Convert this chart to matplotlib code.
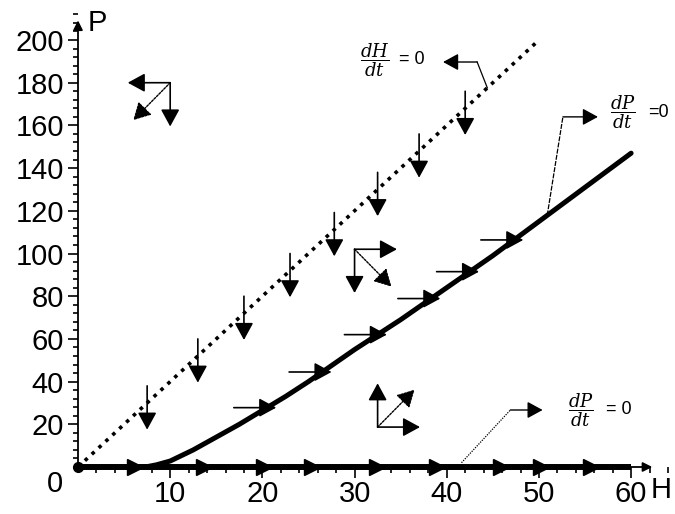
import numpy as np
import matplotlib.pyplot as plt
from matplotlib.ticker import MultipleLocator

plt.rcParams['font.family'] = ['Liberation Sans', 'DejaVu Sans']
plt.rcParams['mathtext.fontset'] = 'dejavuserif'

# нуль-изоклина dH/dt = 0 (прямая)
lineH_H = [0, 50]
lineH_P = [0, 200]

# нуль-изоклина dP/dt = 0 (кривая)
curve_H = [7.3, 8.5, 10, 12.5, 15, 17.5, 20, 22.5, 25, 27.5, 30, 35, 40, 45, 50, 55, 60]
curve_P = [0, 1, 2.8, 8, 14, 20, 26.5, 33, 40, 47.5, 55, 69, 84, 99, 115, 131, 147]

# стрелки на изоклинах и на оси H
down_arrow_H = [7.5, 13, 18, 23, 27.8, 32.5, 37, 42]
right_arrow_H = [20.5, 26.5, 32.5, 38.3, 42.5, 47.3]
axis_arrow_H = [6.2, 13.7, 20.2, 25.4, 32.4, 38.9, 45.9, 50.2, 55.7]

# направления потока в областях
icon_H = [10, 30, 32.5]
icon_P = [180, 102, 18.7]
icon_sx = [-1, 1, 1]
icon_sy = [-1, -1, 1]

x_ticks = [10, 20, 30, 40, 50, 60]
y_ticks = [20, 40, 60, 80, 100, 120, 140, 160, 180, 200]

fig = plt.figure(figsize=(6.75, 5.14), dpi=100)
ax = fig.add_axes([78 / 675, 47 / 514, 590 / 675, 452.6 / 514])
ax.set_xlim(0, 64)
ax.set_ylim(0, 212)
for s in ax.spines.values():
    s.set_visible(False)

ax.set_xticks(x_ticks)
ax.set_yticks(y_ticks)
ax.set_xticklabels([str(v) for v in x_ticks], fontsize=21)
ax.set_yticklabels([str(v) for v in y_ticks], fontsize=21)
ax.xaxis.set_minor_locator(MultipleLocator(2))
ax.yaxis.set_minor_locator(MultipleLocator(4))
ax.tick_params(axis='x', which='major', length=8, width=1.2, pad=1.5)
ax.tick_params(axis='x', which='minor', length=4, width=1.2)
ax.tick_params(axis='y', which='major', length=7, width=1.2, pad=3)
ax.tick_params(axis='y', which='minor', length=3.5, width=1.2)

# оси со стрелками
ax.annotate('', xy=(0, 210.5), xytext=(0, 0), annotation_clip=False,
            arrowprops=dict(arrowstyle='-|>', color='k', lw=1.3, mutation_scale=14))
ax.annotate('', xy=(62.6, 0), xytext=(0, 0), annotation_clip=False,
            arrowprops=dict(arrowstyle='-|>', color='k', lw=1.3, mutation_scale=14))
ax.text(1.0, 208, 'P', fontsize=21, ha='left', va='center')
ax.text(62.1, -11, 'H', fontsize=21, ha='left', va='center', clip_on=False)
ax.annotate('0', xy=(0, 0), xytext=(-16.5, -12.5), textcoords='offset points',
            fontsize=21, ha='center', va='center', annotation_clip=False)

# изоклины
ax.plot([0, 60], [0, 0], color='k', lw=4.3, solid_capstyle='butt', clip_on=False)
ax.plot(0, 0, 'o', color='k', ms=7, clip_on=False)
ax.plot(lineH_H, lineH_P, color='k', lw=2.6, linestyle=(0, (1.0, 1.6)))
ax.plot(curve_H, curve_P, color='k', lw=3.6, solid_capstyle='round',
        solid_joinstyle='round')

head = dict(arrowstyle='-|>,head_length=0.55,head_width=0.3', color='k', lw=1.2,
            mutation_scale=19, shrinkA=0, shrinkB=0)

for h in down_arrow_H:
    p = np.interp(h, lineH_H, lineH_P)
    ax.annotate('', xy=(h, p - 12.5), xytext=(h, p + 8), arrowprops=head)

for h in right_arrow_H:
    p = np.interp(h, curve_H, curve_P)
    ax.annotate('', xy=(h + 1.0, p), xytext=(h - 3.6, p), arrowprops=head)

ax.plot(axis_arrow_H, np.zeros(len(axis_arrow_H)), '>', color='k', ms=11, clip_on=False)

# значки направлений
for h, p, sx, sy in zip(icon_H, icon_P, icon_sx, icon_sy):
    ax.annotate('', xy=(h + sx * 4.6, p), xytext=(h, p), arrowprops=head)
    ax.annotate('', xy=(h, p + sy * 20.5), xytext=(h, p), arrowprops=head)
    ax.annotate('', xy=(h + sx * 4.0, p + sy * 17.5), xytext=(h, p),
                arrowprops=dict(head, linestyle=(0, (1.5, 1)), lw=1))

# подписи изоклин
frac = dict(fontsize=13, ha='left', va='center')
eq = dict(fontsize=13, ha='left', va='center', clip_on=False)
ax.text(30.6, 190.7, r'$\dfrac{dH}{dt}$', **frac)
ax.text(34.8, 190.7, '= 0', **eq)
ax.text(57.7, 166, r'$\dfrac{dP}{dt}$', **frac)
ax.text(61.8, 166, '=0', **eq)
ax.text(53.2, 26.7, r'$\dfrac{dP}{dt}$', **frac)
ax.text(57.3, 26.7, '= 0', **eq)

thin = dict(arrowstyle='-|>,head_length=0.55,head_width=0.3', color='k', lw=1,
            mutation_scale=17, shrinkA=0, shrinkB=0)
ph = np.interp(44.4, lineH_H, lineH_P)
ax.plot([44.4, 43.3], [ph, 189.7], color='k', lw=0.9)
ax.annotate('', xy=(39.6, 189.7), xytext=(43.3, 189.7), arrowprops=thin)
pc = np.interp(50.9, curve_H, curve_P)
ax.plot([50.9, 52.6], [pc, 164], color='k', lw=0.9, linestyle=(0, (4, 1)))
ax.annotate('', xy=(56.4, 164), xytext=(52.6, 164), arrowprops=thin)
ax.plot([41.6, 46.9], [2, 26.7], color='k', lw=0.9, linestyle=(0, (1, 1)))
ax.annotate('', xy=(50.4, 26.7), xytext=(46.9, 26.7), arrowprops=thin)

fig.savefig('out.png', dpi=100)
